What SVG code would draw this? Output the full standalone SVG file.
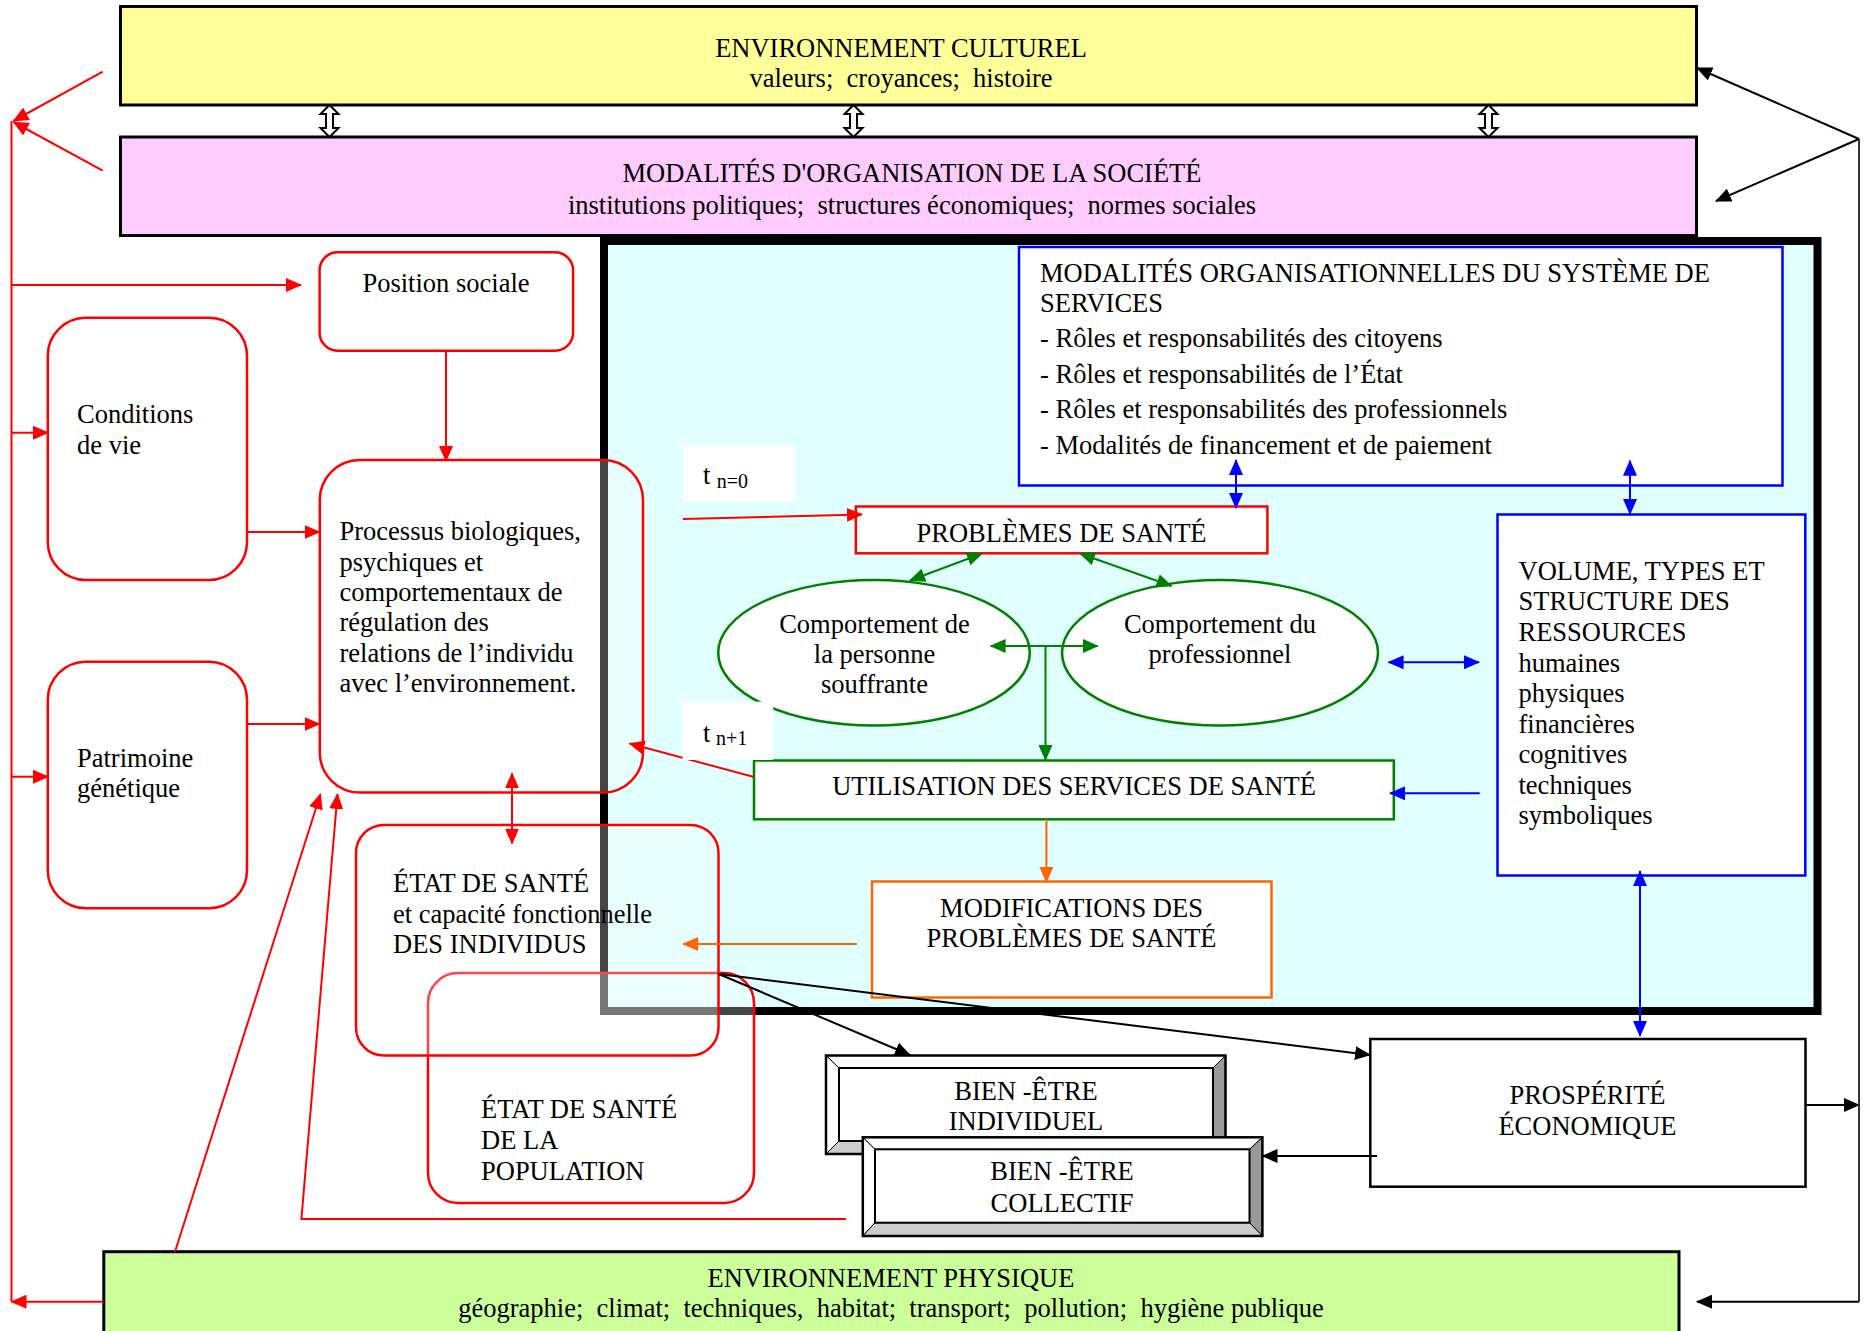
<svg xmlns="http://www.w3.org/2000/svg" width="1871" height="1331" viewBox="0 0 1871 1331">
<style>
.t{font-family:"Liberation Serif","Times New Roman",serif;font-size:26.5px;fill:#000}
.c{text-anchor:middle}
.s{font-size:20px}
.lr{stroke:#f00;stroke-width:2;fill:none}
.lb{stroke:#00f;stroke-width:2;fill:none}
.lg{stroke:#008000;stroke-width:2;fill:none}
.lo{stroke:#f60;stroke-width:2;fill:none}
.lk{stroke:#000;stroke-width:2;fill:none}
.rb{fill:#fff;fill-opacity:0.27;stroke:#f00;stroke-width:2.5}
.rw{fill:#fff;stroke:#f00;stroke-width:2.5}
.env{stroke:#000;stroke-width:3}
.bev{stroke:#000;stroke-width:1}
</style>
<defs>
<marker id="aR" viewBox="0 0 16 14" refX="15" refY="7" markerWidth="16" markerHeight="14" markerUnits="userSpaceOnUse" orient="auto-start-reverse"><path d="M0,0L16,7L0,14z" fill="#f00"/></marker>
<marker id="aB" viewBox="0 0 16 14" refX="15" refY="7" markerWidth="16" markerHeight="14" markerUnits="userSpaceOnUse" orient="auto-start-reverse"><path d="M0,0L16,7L0,14z" fill="#00f"/></marker>
<marker id="aG" viewBox="0 0 16 14" refX="15" refY="7" markerWidth="16" markerHeight="14" markerUnits="userSpaceOnUse" orient="auto-start-reverse"><path d="M0,0L16,7L0,14z" fill="#008000"/></marker>
<marker id="aO" viewBox="0 0 16 14" refX="15" refY="7" markerWidth="16" markerHeight="14" markerUnits="userSpaceOnUse" orient="auto-start-reverse"><path d="M0,0L16,7L0,14z" fill="#f60"/></marker>
<marker id="aK" viewBox="0 0 16 14" refX="15" refY="7" markerWidth="16" markerHeight="14" markerUnits="userSpaceOnUse" orient="auto-start-reverse"><path d="M0,0L16,7L0,14z" fill="#000"/></marker>
<path id="dbl" d="M0,-16L9,-7L3.5,-7L3.5,7L9,7L0,16L-9,7L-3.5,7L-3.5,-7L-9,-7Z" fill="#fff" stroke="#000" stroke-width="2"/>
</defs>
<rect width="1871" height="1331" fill="#fff"/>

<g id="env-culturel">
<rect class="env" x="120.5" y="6.5" width="1576" height="98.5" fill="#ffff99"/>
<text class="t c" x="901" y="57">ENVIRONNEMENT CULTUREL</text>
<text class="t c" x="901" y="87">valeurs;&#160; croyances;&#160; histoire</text>
</g>
<g id="modalites-societe">
<rect class="env" x="120.5" y="137" width="1576" height="98.5" fill="#ffccff"/>
<text class="t c" x="912" y="181.5">MODALITÉS D'ORGANISATION DE LA SOCIÉTÉ</text>
<text class="t c" x="912" y="213.5">institutions politiques;&#160; structures économiques;&#160; normes sociales</text>
</g>
<g id="culture-society-links">
<use href="#dbl" x="329.5" y="121"/>
<use href="#dbl" x="853.5" y="121"/>
<use href="#dbl" x="1488.5" y="121"/>
</g>

<g id="systeme-services">
<rect x="604" y="241" width="1213.5" height="770" fill="#e0ffff" stroke="#000" stroke-width="8"/>
</g>

<g id="modalites-org">
<rect x="1019" y="247" width="763.5" height="238.5" fill="#fff" stroke="#00f" stroke-width="2.5"/>
<text class="t" x="1040" y="281.5">MODALITÉS ORGANISATIONNELLES DU SYSTÈME DE</text>
<text class="t" x="1040" y="312">SERVICES</text>
<text class="t" x="1040" y="347">- Rôles et responsabilités des citoyens</text>
<text class="t" x="1040" y="382.5">- Rôles et responsabilités de l’État</text>
<text class="t" x="1040" y="418">- Rôles et responsabilités des professionnels</text>
<text class="t" x="1040" y="453.5">- Modalités de financement et de paiement</text>
</g>
<g id="volume">
<rect x="1497.5" y="514.5" width="307.8" height="361" fill="#fff" stroke="#00f" stroke-width="2.5"/>
<text class="t" x="1518.5" y="580">VOLUME, TYPES ET</text>
<text class="t" x="1518.5" y="610">STRUCTURE DES</text>
<text class="t" x="1518.5" y="640.5">RESSOURCES</text>
<text class="t" x="1518.5" y="671.5">humaines</text>
<text class="t" x="1518.5" y="702">physiques</text>
<text class="t" x="1518.5" y="732.5">financières</text>
<text class="t" x="1518.5" y="763">cognitives</text>
<text class="t" x="1518.5" y="793.5">techniques</text>
<text class="t" x="1518.5" y="824">symboliques</text>
</g>
<g id="problemes">
<rect x="855.8" y="506.5" width="411.6" height="46.8" fill="#fff" stroke="#f00" stroke-width="2.5"/>
<text class="t c" x="1061.5" y="541.7">PROBLÈMES DE SANTÉ</text>
</g>
<g id="comportement-personne">
<ellipse cx="874" cy="652.8" rx="155.8" ry="72.8" fill="#fff" stroke="#008000" stroke-width="2.5"/>
<text class="t c" x="874.5" y="633.3">Comportement de</text>
<text class="t c" x="874.5" y="663.3">la personne</text>
<text class="t c" x="874.5" y="693.3">souffrante</text>
</g>
<g id="comportement-professionnel">
<ellipse cx="1220" cy="652.8" rx="158" ry="72.8" fill="#fff" stroke="#008000" stroke-width="2.5"/>
<text class="t c" x="1220" y="633.3">Comportement du</text>
<text class="t c" x="1220" y="663.3">professionnel</text>
</g>
<g id="utilisation">
<rect x="754" y="760.5" width="639.8" height="58.8" fill="#fff" stroke="#008000" stroke-width="2.5"/>
<text class="t c" x="1074" y="795">UTILISATION DES SERVICES DE SANTÉ</text>
</g>
<g id="modifications">
<rect x="872" y="881.5" width="399.5" height="116" fill="#fff" stroke="#f60" stroke-width="2.5"/>
<text class="t c" x="1071.5" y="916.5">MODIFICATIONS DES</text>
<text class="t c" x="1071.5" y="947">PROBLÈMES DE SANTÉ</text>
</g>

<g id="etat-population">
<rect class="rb" x="428" y="973" width="326" height="230" rx="30"/>
<text class="t" x="481" y="1118.3">ÉTAT DE SANTÉ</text>
<text class="t" x="481" y="1149">DE LA</text>
<text class="t" x="481" y="1180">POPULATION</text>
</g>
<g id="etat-individus">
<rect class="rb" x="356" y="825" width="362.5" height="230.5" rx="28"/>
<text class="t" x="393" y="891.7">ÉTAT DE SANTÉ</text>
<text class="t" x="393" y="922.5">et capacité fonctionnelle</text>
<text class="t" x="393" y="953.3">DES INDIVIDUS</text>
</g>
<g id="processus">
<rect class="rb" x="319.8" y="460" width="323.2" height="332.5" rx="40"/>
<text class="t" x="339.5" y="540">Processus biologiques,</text>
<text class="t" x="339.5" y="570.5">psychiques et</text>
<text class="t" x="339.5" y="601">comportementaux de</text>
<text class="t" x="339.5" y="631">régulation des</text>
<text class="t" x="339.5" y="661.5">relations de l’individu</text>
<text class="t" x="339.5" y="692">avec l’environnement.</text>
</g>
<g id="position-sociale">
<rect class="rw" x="319.6" y="252.3" width="253.5" height="98.4" rx="18"/>
<text class="t c" x="446" y="291.5">Position sociale</text>
</g>
<g id="conditions-vie">
<rect class="rw" x="47.8" y="317.7" width="199.2" height="262.3" rx="38"/>
<text class="t" x="77" y="423">Conditions</text>
<text class="t" x="77" y="454">de vie</text>
</g>
<g id="patrimoine">
<rect class="rw" x="47.8" y="661.7" width="199.2" height="246.6" rx="38"/>
<text class="t" x="77" y="766.7">Patrimoine</text>
<text class="t" x="77" y="796.7">génétique</text>
</g>

<g id="bien-etre-individuel">
<rect x="826" y="1055.5" width="399.5" height="98.5" fill="#fff"/>
<polygon class="bev" points="826,1055.5 1225.5,1055.5 1213,1068 839,1068" fill="#fff"/>
<polygon class="bev" points="826,1055.5 839,1068 839,1141 826,1154" fill="#fff"/>
<polygon class="bev" points="1225.5,1055.5 1225.5,1154 1213,1141 1213,1068" fill="#999"/>
<polygon class="bev" points="826,1154 1225.5,1154 1213,1141 839,1141" fill="#ccc"/>
<rect x="826" y="1055.5" width="399.5" height="98.5" fill="none" stroke="#000" stroke-width="2.5"/>
<rect x="839" y="1068" width="374" height="73" fill="#fff" stroke="#000" stroke-width="2"/>
<text class="t c" x="1026" y="1100">BIEN -ÊTRE</text>
<text class="t c" x="1026" y="1130">INDIVIDUEL</text>
</g>
<g id="bien-etre-collectif">
<rect x="862.8" y="1137.3" width="399.6" height="98.7" fill="#fff"/>
<polygon class="bev" points="862.8,1137.3 1262.4,1137.3 1249.5,1149.3 875,1149.3" fill="#fff"/>
<polygon class="bev" points="862.8,1137.3 875,1149.3 875,1222.7 862.8,1236" fill="#fff"/>
<polygon class="bev" points="1262.4,1137.3 1262.4,1236 1249.5,1222.7 1249.5,1149.3" fill="#999"/>
<polygon class="bev" points="862.8,1236 1262.4,1236 1249.5,1222.7 875,1222.7" fill="#ccc"/>
<rect x="862.8" y="1137.3" width="399.6" height="98.7" fill="none" stroke="#000" stroke-width="2.5"/>
<rect x="875" y="1149.3" width="374.5" height="73.4" fill="#fff" stroke="#000" stroke-width="2"/>
<text class="t c" x="1062" y="1180">BIEN -ÊTRE</text>
<text class="t c" x="1062" y="1211.5">COLLECTIF</text>
</g>
<g id="prosperite">
<rect x="1370.3" y="1039" width="435.2" height="147.7" fill="#fff" stroke="#000" stroke-width="2.5"/>
<text class="t c" x="1587.5" y="1104">PROSPÉRITÉ</text>
<text class="t c" x="1587.5" y="1135">ÉCONOMIQUE</text>
</g>
<g id="env-physique">
<rect class="env" x="103.8" y="1251.7" width="1575.2" height="90" fill="#ccff99"/>
<text class="t c" x="891" y="1287">ENVIRONNEMENT PHYSIQUE</text>
<text class="t c" x="891" y="1317">géographie;&#160; climat;&#160; techniques,&#160; habitat;&#160; transport;&#160; pollution;&#160; hygiène publique</text>
</g>

<g id="connectors">
<!-- left red distribution -->
<line class="lr" x1="11.5" y1="121" x2="11.5" y2="1301.7"/>
<line class="lr" x1="102.7" y1="71.7" x2="13.4" y2="121" marker-end="url(#aR)"/>
<line class="lr" x1="102.7" y1="170.7" x2="13.4" y2="122" marker-end="url(#aR)"/>
<line class="lr" x1="103.5" y1="1301.7" x2="11.5" y2="1301.7" marker-end="url(#aR)"/>
<line class="lr" x1="11.5" y1="285" x2="301" y2="285" marker-end="url(#aR)"/>
<line class="lr" x1="11.5" y1="432.7" x2="48" y2="432.7" marker-end="url(#aR)"/>
<line class="lr" x1="11.5" y1="776.7" x2="48" y2="776.7" marker-end="url(#aR)"/>
<line class="lr" x1="247" y1="532" x2="319.6" y2="532" marker-end="url(#aR)"/>
<line class="lr" x1="247" y1="724" x2="319.6" y2="724" marker-end="url(#aR)"/>
<line class="lr" x1="446" y1="350.7" x2="446" y2="461" marker-end="url(#aR)"/>
<line class="lr" x1="512" y1="773.3" x2="512" y2="843.5" marker-start="url(#aR)" marker-end="url(#aR)"/>
<line class="lr" x1="175" y1="1251.7" x2="320.5" y2="794" marker-end="url(#aR)"/>
<polyline class="lr" points="846,1219 301.4,1219 337.5,794" marker-end="url(#aR)"/>
<line class="lr" x1="754" y1="777" x2="629.5" y2="743.5" marker-end="url(#aR)"/>
<line class="lr" x1="683" y1="519" x2="862" y2="514.5" marker-end="url(#aR)"/>
<!-- green -->
<line class="lg" x1="910" y1="580.5" x2="982" y2="553.5" marker-start="url(#aG)" marker-end="url(#aG)"/>
<line class="lg" x1="1080" y1="553.5" x2="1171.5" y2="586" marker-start="url(#aG)" marker-end="url(#aG)"/>
<line class="lg" x1="990.6" y1="646" x2="1097.8" y2="646" marker-start="url(#aG)" marker-end="url(#aG)"/>
<line class="lg" x1="1045.5" y1="646" x2="1045.5" y2="760" marker-end="url(#aG)"/>
<!-- orange -->
<line class="lo" x1="1046.4" y1="819.3" x2="1046.4" y2="882" marker-end="url(#aO)"/>
<line class="lo" x1="857" y1="944" x2="683" y2="944" marker-end="url(#aO)"/>
<!-- blue -->
<line class="lb" x1="1236" y1="460" x2="1236" y2="508" marker-start="url(#aB)" marker-end="url(#aB)"/>
<line class="lb" x1="1630" y1="460.7" x2="1630" y2="514" marker-start="url(#aB)" marker-end="url(#aB)"/>
<line class="lb" x1="1388.6" y1="662.3" x2="1479" y2="662.3" marker-start="url(#aB)" marker-end="url(#aB)"/>
<line class="lb" x1="1479.7" y1="793.3" x2="1390" y2="793.3" marker-end="url(#aB)"/>
<line class="lb" x1="1640" y1="871" x2="1640" y2="1036" marker-start="url(#aB)" marker-end="url(#aB)"/>
<!-- black -->
<line class="lk" x1="718.7" y1="974" x2="910" y2="1055" marker-end="url(#aK)"/>
<line class="lk" x1="718.7" y1="974" x2="1370" y2="1055" marker-end="url(#aK)"/>
<line class="lk" x1="1377" y1="1156" x2="1262.5" y2="1156" marker-end="url(#aK)"/>
<line class="lk" x1="1805.5" y1="1105" x2="1859" y2="1105" marker-end="url(#aK)"/>
<line x1="1859" y1="139" x2="1859" y2="1301.7" stroke="#333" stroke-width="2"/>
<line class="lk" x1="1859" y1="1301.7" x2="1697" y2="1301.7" marker-end="url(#aK)"/>
<line class="lk" x1="1859" y1="139" x2="1697" y2="68" marker-end="url(#aK)"/>
<line class="lk" x1="1859" y1="139" x2="1716" y2="201" marker-end="url(#aK)"/>
</g>

<g id="label-t0">
<rect x="683.3" y="445" width="111.7" height="56.7" fill="#fff"/>
<text class="t" x="703" y="484"><tspan>t</tspan><tspan class="s" x="716.7" y="488.3">n=0</tspan></text>
</g>
<g id="label-t1">
<rect x="682.6" y="701.7" width="90.6" height="58.3" fill="#fff"/>
<text class="t" x="703" y="741.5"><tspan>t</tspan><tspan class="s" x="716" y="745">n+1</tspan></text>
</g>
</svg>
